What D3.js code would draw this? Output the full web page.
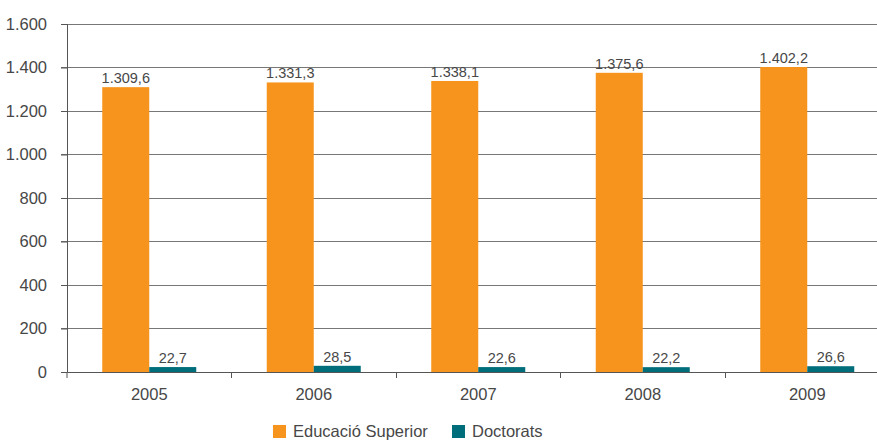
<!DOCTYPE html>
<html><head><meta charset="utf-8">
<script src="https://cdn.jsdelivr.net/npm/d3@7"></script>
<style>body{margin:0;background:#fff}svg{display:block}</style>
</head><body>
<script>
const years = ["2005","2006","2007","2008","2009"];
const superior = [1309.6,1331.3,1338.1,1375.6,1402.2];
const doctorats = [22.7,28.5,22.6,22.2,26.6];
const seriesNames = ["Educació Superior","Doctorats"];
const seriesColors = ["#F7941D","#006D7A"];
const yTicks = [0,200,400,600,800,1000,1200,1400,1600];

const W=877,H=441;
const svg=d3.select("body").append("svg").attr("width",W).attr("height",H);
const fmt = v => { const s = d3.format(",.1f")(v); return s.replace(/,/g,"#").replace(".",",").replace(/#/g,"."); };
const fmtT = v => d3.format(",")(v).replace(/,/g,".");

const x0=d3.scaleBand().domain(years).range([67,889.5]).padding(0);
const y=d3.scaleLinear().domain([0,1600]).range([372,24]);
const font="'Liberation Sans', Arial, sans-serif";
const txt="#474747";

// gridlines
svg.append("g").selectAll("line").data(yTicks.filter(d=>d>0)).join("line")
  .attr("x1",61).attr("x2",W).attr("y1",d=>y(d)).attr("y2",d=>y(d))
  .attr("stroke","#777").attr("stroke-width",1).attr("shape-rendering","crispEdges");

// y axis
const ya=svg.append("g").attr("transform","translate(67,0)")
  .call(d3.axisLeft(y).tickValues(yTicks).tickFormat(fmtT).tickSize(6).tickPadding(14));
ya.select(".domain").attr("stroke","#555");
ya.selectAll(".tick line").attr("stroke","#555");
ya.selectAll("text").attr("font-family",font).attr("font-size",16.5).attr("fill",txt);

const groupW=94;
const x1=d3.scaleBand().domain([0,1]).range([0,groupW]);
const data=years.map((yr,i)=>({yr,vals:[superior[i],doctorats[i]]}));
const g=svg.append("g").selectAll("g").data(data).join("g")
  .attr("transform",d=>`translate(${x0(d.yr)+x0.bandwidth()/2-groupW/2},0)`);
g.selectAll("rect").data(d=>d.vals.map((v,k)=>({v,k}))).join("rect")
  .attr("x",d=>x1(d.k)).attr("width",x1.bandwidth())
  .attr("y",d=>y(d.v)).attr("height",d=>y(0)-y(d.v))
  .attr("fill",d=>seriesColors[d.k]);
g.selectAll("text").data(d=>d.vals.map((v,k)=>({v,k}))).join("text")
  .attr("x",d=>x1(d.k)+x1.bandwidth()/2).attr("y",d=>y(d.v)-4)
  .attr("text-anchor","middle").attr("font-family",font).attr("font-size",14.5).attr("fill",txt)
  .text(d=>fmt(d.v));

// x axis
const xa=svg.append("g").attr("transform","translate(0,372)")
  .call(d3.axisBottom(x0).tickSize(0).tickPadding(16));
xa.select(".domain").attr("stroke","#555");
xa.selectAll("text").attr("font-family",font).attr("font-size",16.5).attr("fill",txt);
svg.append("g").selectAll("line").data(years.slice(1)).join("line")
  .attr("x1",d=>x0(d)).attr("x2",d=>x0(d)).attr("y1",372).attr("y2",378)
  .attr("stroke","#555").attr("shape-rendering","crispEdges");
svg.append("line").attr("x1",67).attr("x2",67).attr("y1",372).attr("y2",378).attr("stroke","#555");

// legend
const leg=[{x:273,tx:293},{x:452,tx:472}];
seriesNames.forEach((n,i)=>{
  svg.append("rect").attr("x",leg[i].x).attr("y",425).attr("width",13).attr("height",13).attr("fill",seriesColors[i]);
  svg.append("text").attr("x",leg[i].tx).attr("y",437).attr("font-family",font).attr("font-size",16.5).attr("fill",txt).text(n);
});
</script>
</body></html>
